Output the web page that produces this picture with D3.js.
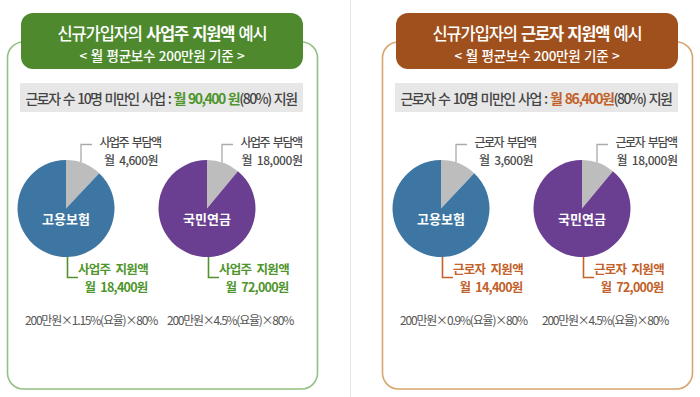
<!DOCTYPE html>
<html>
<head>
<meta charset="utf-8">
<script src="https://cdn.jsdelivr.net/npm/d3@7"></script>
<style>
  body { margin: 0; background: #fff; }
  svg { display: block; font-family: "Noto Sans CJK KR", "Noto Sans", sans-serif; }
</style>
</head>
<body>
<div id="chart"></div>
<script>
// panels (who gets the subsidy)
const roles = ['사업주', '근로자'];
const supportTotals = ['월 90,400 원', '월 86,400원'];
const insurances = ['고용보험', '국민연금'];
// per panel, per insurance
const burdenAmounts = [['4,600', '18,000'], ['3,600', '18,000']];
const supportAmounts = [['18,400', '72,000'], ['14,400', '72,000']];
const formulas = [
    ['200만원×1.15%(요율)×80%', '200만원×4.5%(요율)×80%'],
    ['200만원×0.9%(요율)×80%', '200만원×4.5%(요율)×80%']
];
// grey slice share as drawn in the picture (%)
const burdenShares = [[12, 11], [12, 11]];

const W = 700, H = 397;
const headerColors = ['#4e8a2d', '#9f501c'];
const borderColors = ['#93c083', '#d8a56c'];
const accentColors = ['#4f952d', '#c2612a'];
const pieColors = ['#3e76a3', '#6a3e90'];

const panelX = d3.scaleOrdinal().domain(roles).range([0, 375]);
const pieX = d3.scaleOrdinal().domain(insurances).range([66, 207]);
const pieY = 208.5, R = 48.5;

const pie = d3.pie().sort(null).value(d => d);
const arc = d3.arc().innerRadius(0).outerRadius(R);

// tighten letter spacing so a text fills a given width, keep spaces visible
function fit(sel, w, ws = 2.5) {
    sel.each(function() {
        d3.select(this).attr('word-spacing', ws);
        const n = this.getNumberOfChars();
        const len = this.getComputedTextLength();
        d3.select(this).attr('letter-spacing', ((w - len) / n).toFixed(2));
    });
}

// two-line label as one text element
function twoLines(parent, lines, style) {
    const t = parent.append('text')
        .attr('text-anchor', 'middle')
        .attr('dominant-baseline', 'central')
        .style('font-size', style.size)
        .style('font-weight', style.weight)
        .style('fill', style.fill);
    lines.forEach(l => {
        const s = t.append('tspan')
            .attr('x', l.x).attr('y', l.y)
            .text(l.text);
        fit(s, l.w, style.ws);
    });
    return t;
}

const svg = d3.select('#chart').append('svg')
    .attr('width', W)
    .attr('height', H);

svg.append('line')
    .attr('x1', 350.5).attr('x2', 350.5)
    .attr('y1', 0).attr('y2', H)
    .attr('stroke', '#e8e8e8');

roles.forEach((role, i) => {
    const g = svg.append('g').attr('transform', `translate(${panelX(role)},0)`);

    // outer box
    g.append('rect')
        .attr('x', 7.5).attr('y', 42)
        .attr('width', 310).attr('height', 347)
        .attr('rx', 16)
        .attr('fill', 'none')
        .attr('stroke', borderColors[i])
        .attr('stroke-width', 1.6);

    // header
    g.append('rect')
        .attr('x', 21).attr('y', 13)
        .attr('width', 282).attr('height', 56)
        .attr('rx', 12)
        .attr('fill', headerColors[i]);

    const t1 = g.append('text')
        .attr('x', 162).attr('y', 33)
        .attr('text-anchor', 'middle')
        .attr('dominant-baseline', 'central')
        .style('font-size', '16.5px')
        .style('font-weight', 500)
        .style('fill', '#fff');
    t1.append('tspan').text('신규가입자의 ');
    t1.append('tspan').style('font-weight', 700).text(`${role} 지원액`);
    t1.append('tspan').text(' 예시');
    fit(t1, 209, 1.5);

    const t2 = g.append('text')
        .attr('x', 162).attr('y', 55)
        .attr('text-anchor', 'middle')
        .attr('dominant-baseline', 'central')
        .style('font-size', '13.5px')
        .style('font-weight', 500)
        .style('fill', '#fff')
        .text('< 월 평균보수 200만원 기준 >');
    fit(t2, 165, 1);

    // grey summary bar
    g.append('rect')
        .attr('x', 20).attr('y', 83)
        .attr('width', 283).attr('height', 29)
        .attr('fill', '#e7e7e7');

    const sb = g.append('text')
        .attr('x', 161).attr('y', 98)
        .attr('text-anchor', 'middle')
        .attr('dominant-baseline', 'central')
        .style('font-size', '14px')
        .style('font-weight', 500)
        .style('fill', '#444');
    sb.append('tspan').text('근로자 수 10명 미만인 사업 : ');
    sb.append('tspan').style('fill', accentColors[i]).style('font-weight', 700).text(supportTotals[i]);
    sb.append('tspan').text('(80%) 지원');
    fit(sb, 271, 1.5);

    insurances.forEach((name, j) => {
        const cx = pieX(name);
        const share = burdenShares[i][j];
        const pg = g.append('g').attr('transform', `translate(${cx},${pieY})`);

        pg.selectAll('path')
            .data(pie([share, 100 - share]))
            .join('path')
            .attr('d', arc)
            .attr('fill', (d, k) => k === 0 ? '#bdbdbd' : pieColors[j]);

        pg.append('text')
            .attr('y', 10)
            .attr('text-anchor', 'middle')
            .attr('dominant-baseline', 'central')
            .style('font-size', '13px')
            .style('font-weight', 700)
            .style('fill', '#fff')
            .text(name);

        // burden leader + label
        const lx = 15;
        const ly = -Math.sqrt(R * R - lx * lx);
        pg.append('path')
            .attr('d', `M${lx},${ly}V-64H${lx + 11}`)
            .attr('fill', 'none')
            .attr('stroke', '#aaa')
            .attr('stroke-width', 1.3);

        twoLines(pg, [
            { x: 64, y: -68, w: 61, text: `${role} 부담액` },
            { x: 65, y: -50, w: burdenAmounts[i][j].length > 5 ? 61 : 54, text: `월 ${burdenAmounts[i][j]}원` }
        ], { size: '12px', weight: 500, fill: '#4a4a4a', ws: 2.5 });

        // support leader + label
        pg.append('path')
            .attr('d', `M1.5,${R}V69H12`)
            .attr('fill', 'none')
            .attr('stroke', accentColors[i])
            .attr('stroke-width', 1.6);

        twoLines(pg, [
            { x: 47, y: 59, w: 70, text: `${role} 지원액` },
            { x: 50, y: 77.5, w: 63, text: `월 ${supportAmounts[i][j]}원` }
        ], { size: '12.5px', weight: 700, fill: accentColors[i], ws: 3 });

        // formula under each pie
        const f = g.append('text')
            .attr('x', j === 0 ? 25 : 167).attr('y', 319)
            .attr('dominant-baseline', 'central')
            .style('font-size', '12px')
            .style('fill', '#555')
            .text(formulas[i][j]);
        fit(f, j === 0 ? (i === 0 ? 132 : 127) : 126, 0);
    });
});
</script>
</body>
</html>
